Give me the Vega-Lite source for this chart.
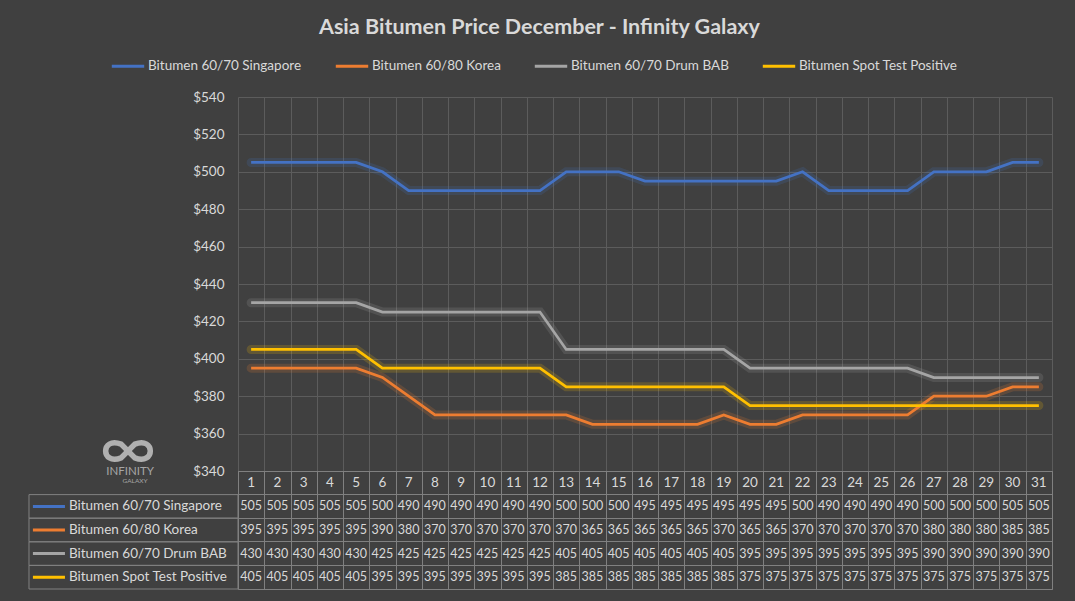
{
  "$schema": "https://vega.github.io/schema/vega-lite/v6.json",
  "autosize": {"type": "pad"},
  "padding": {"left": 27, "top": 16, "right": 25, "bottom": 11},
  "background": "#404040",
  "bounds": "flush",
  "spacing": 0,
  "title": {
    "text": "Asia Bitumen Price December - Infinity Galaxy",
    "fontSize": 21.5,
    "fontWeight": "bold",
    "color": "#d9d9d9",
    "font": "Lato",
    "anchor": "middle",
    "dx": -3,
    "offset": 10
  },
  "config": {
    "font": "Lato",
    "axis": {"gridColor": "#5c5c5c", "labelColor": "#d9d9d9", "domain": false, "ticks": false},
    "legend": {"orient": "none", "legendX": -128, "legendY": -49, "direction": "horizontal", "title": null,
      "symbolType": "stroke", "symbolSize": 1050, "symbolStrokeWidth": 3, "symbolOpacity": 1,
      "labelColor": "#d9d9d9", "labelFontSize": 13.5, "labelLimit": 0, "labelOffset": 2, "columnPadding": 27}
  },
  "datasets": {
    "prices": [
      {"day": 1, "Bitumen 60/70 Singapore": 505, "Bitumen 60/80 Korea": 395, "Bitumen 60/70 Drum BAB": 430, "Bitumen Spot Test Positive": 405},
      {"day": 2, "Bitumen 60/70 Singapore": 505, "Bitumen 60/80 Korea": 395, "Bitumen 60/70 Drum BAB": 430, "Bitumen Spot Test Positive": 405},
      {"day": 3, "Bitumen 60/70 Singapore": 505, "Bitumen 60/80 Korea": 395, "Bitumen 60/70 Drum BAB": 430, "Bitumen Spot Test Positive": 405},
      {"day": 4, "Bitumen 60/70 Singapore": 505, "Bitumen 60/80 Korea": 395, "Bitumen 60/70 Drum BAB": 430, "Bitumen Spot Test Positive": 405},
      {"day": 5, "Bitumen 60/70 Singapore": 505, "Bitumen 60/80 Korea": 395, "Bitumen 60/70 Drum BAB": 430, "Bitumen Spot Test Positive": 405},
      {"day": 6, "Bitumen 60/70 Singapore": 500, "Bitumen 60/80 Korea": 390, "Bitumen 60/70 Drum BAB": 425, "Bitumen Spot Test Positive": 395},
      {"day": 7, "Bitumen 60/70 Singapore": 490, "Bitumen 60/80 Korea": 380, "Bitumen 60/70 Drum BAB": 425, "Bitumen Spot Test Positive": 395},
      {"day": 8, "Bitumen 60/70 Singapore": 490, "Bitumen 60/80 Korea": 370, "Bitumen 60/70 Drum BAB": 425, "Bitumen Spot Test Positive": 395},
      {"day": 9, "Bitumen 60/70 Singapore": 490, "Bitumen 60/80 Korea": 370, "Bitumen 60/70 Drum BAB": 425, "Bitumen Spot Test Positive": 395},
      {"day": 10, "Bitumen 60/70 Singapore": 490, "Bitumen 60/80 Korea": 370, "Bitumen 60/70 Drum BAB": 425, "Bitumen Spot Test Positive": 395},
      {"day": 11, "Bitumen 60/70 Singapore": 490, "Bitumen 60/80 Korea": 370, "Bitumen 60/70 Drum BAB": 425, "Bitumen Spot Test Positive": 395},
      {"day": 12, "Bitumen 60/70 Singapore": 490, "Bitumen 60/80 Korea": 370, "Bitumen 60/70 Drum BAB": 425, "Bitumen Spot Test Positive": 395},
      {"day": 13, "Bitumen 60/70 Singapore": 500, "Bitumen 60/80 Korea": 370, "Bitumen 60/70 Drum BAB": 405, "Bitumen Spot Test Positive": 385},
      {"day": 14, "Bitumen 60/70 Singapore": 500, "Bitumen 60/80 Korea": 365, "Bitumen 60/70 Drum BAB": 405, "Bitumen Spot Test Positive": 385},
      {"day": 15, "Bitumen 60/70 Singapore": 500, "Bitumen 60/80 Korea": 365, "Bitumen 60/70 Drum BAB": 405, "Bitumen Spot Test Positive": 385},
      {"day": 16, "Bitumen 60/70 Singapore": 495, "Bitumen 60/80 Korea": 365, "Bitumen 60/70 Drum BAB": 405, "Bitumen Spot Test Positive": 385},
      {"day": 17, "Bitumen 60/70 Singapore": 495, "Bitumen 60/80 Korea": 365, "Bitumen 60/70 Drum BAB": 405, "Bitumen Spot Test Positive": 385},
      {"day": 18, "Bitumen 60/70 Singapore": 495, "Bitumen 60/80 Korea": 365, "Bitumen 60/70 Drum BAB": 405, "Bitumen Spot Test Positive": 385},
      {"day": 19, "Bitumen 60/70 Singapore": 495, "Bitumen 60/80 Korea": 370, "Bitumen 60/70 Drum BAB": 405, "Bitumen Spot Test Positive": 385},
      {"day": 20, "Bitumen 60/70 Singapore": 495, "Bitumen 60/80 Korea": 365, "Bitumen 60/70 Drum BAB": 395, "Bitumen Spot Test Positive": 375},
      {"day": 21, "Bitumen 60/70 Singapore": 495, "Bitumen 60/80 Korea": 365, "Bitumen 60/70 Drum BAB": 395, "Bitumen Spot Test Positive": 375},
      {"day": 22, "Bitumen 60/70 Singapore": 500, "Bitumen 60/80 Korea": 370, "Bitumen 60/70 Drum BAB": 395, "Bitumen Spot Test Positive": 375},
      {"day": 23, "Bitumen 60/70 Singapore": 490, "Bitumen 60/80 Korea": 370, "Bitumen 60/70 Drum BAB": 395, "Bitumen Spot Test Positive": 375},
      {"day": 24, "Bitumen 60/70 Singapore": 490, "Bitumen 60/80 Korea": 370, "Bitumen 60/70 Drum BAB": 395, "Bitumen Spot Test Positive": 375},
      {"day": 25, "Bitumen 60/70 Singapore": 490, "Bitumen 60/80 Korea": 370, "Bitumen 60/70 Drum BAB": 395, "Bitumen Spot Test Positive": 375},
      {"day": 26, "Bitumen 60/70 Singapore": 490, "Bitumen 60/80 Korea": 370, "Bitumen 60/70 Drum BAB": 395, "Bitumen Spot Test Positive": 375},
      {"day": 27, "Bitumen 60/70 Singapore": 500, "Bitumen 60/80 Korea": 380, "Bitumen 60/70 Drum BAB": 390, "Bitumen Spot Test Positive": 375},
      {"day": 28, "Bitumen 60/70 Singapore": 500, "Bitumen 60/80 Korea": 380, "Bitumen 60/70 Drum BAB": 390, "Bitumen Spot Test Positive": 375},
      {"day": 29, "Bitumen 60/70 Singapore": 500, "Bitumen 60/80 Korea": 380, "Bitumen 60/70 Drum BAB": 390, "Bitumen Spot Test Positive": 375},
      {"day": 30, "Bitumen 60/70 Singapore": 505, "Bitumen 60/80 Korea": 385, "Bitumen 60/70 Drum BAB": 390, "Bitumen Spot Test Positive": 375},
      {"day": 31, "Bitumen 60/70 Singapore": 505, "Bitumen 60/80 Korea": 385, "Bitumen 60/70 Drum BAB": 390, "Bitumen Spot Test Positive": 375}
    ]
  },
  "vconcat": [
    {
      "width": 814,
      "height": 374,
      "view": {"stroke": null},
      "data": {"name": "prices"},
      "transform": [
        {"fold": ["Bitumen 60/70 Singapore", "Bitumen 60/80 Korea", "Bitumen 60/70 Drum BAB", "Bitumen Spot Test Positive"], "as": ["series", "price"]}
      ],
      "encoding": {
        "x": {
          "field": "day", "type": "quantitative",
          "scale": {"domain": [0.5, 31.5], "nice": false, "zero": false},
          "axis": {"values": [0.5,1.5,2.5,3.5,4.5,5.5,6.5,7.5,8.5,9.5,10.5,11.5,12.5,13.5,14.5,15.5,16.5,17.5,18.5,19.5,20.5,21.5,22.5,23.5,24.5,25.5,26.5,27.5,28.5,29.5,30.5,31.5], "labels": false, "title": null, "grid": true}
        },
        "y": {
          "field": "price", "type": "quantitative",
          "scale": {"domain": [340, 540], "nice": false, "zero": false},
          "axis": {"values": [340,360,380,400,420,440,460,480,500,520,540], "format": "$d", "title": null, "labelFontSize": 13.5, "labelPadding": 14, "grid": true}
        }
      },
      "layer": [
        {
          "mark": {"type": "line", "strokeWidth": 9, "opacity": 0.18, "strokeCap": "round"},
          "encoding": {
            "color": {"field": "series", "type": "nominal",
              "scale": {"domain": ["Bitumen 60/70 Singapore", "Bitumen 60/80 Korea", "Bitumen 60/70 Drum BAB", "Bitumen Spot Test Positive"], "range": ["#4472c4", "#ed7d31", "#a5a5a5", "#ffc000"]}}
          }
        },
        {
          "mark": {"type": "line", "strokeWidth": 2.75},
          "encoding": {
            "color": {"field": "series", "type": "nominal"}
          }
        },
        {
          "transform": [{"filter": "datum.day == 1 && datum.series == 'Bitumen 60/70 Singapore'"}],
          "mark": {"type": "point", "shape": "M-0.3,-0.3 C-1.2,-0.65 -1.2,0.65 -0.3,0.3 L0.3,-0.3 C1.2,-0.65 1.2,0.65 0.3,0.3 Z", "size": 2100, "filled": false, "stroke": "#b0b0b0", "strokeWidth": 5.5, "opacity": 1},
          "encoding": {"x": {"datum": -3.69}, "y": {"datum": 350.7}}
        },
        {
          "transform": [{"filter": "datum.day == 1 && datum.series == 'Bitumen 60/70 Singapore'"}],
          "mark": {"type": "text", "text": "INFINITY", "fontSize": 11.5, "color": "#a6a6a6", "letterSpacing": 0.8},
          "encoding": {"x": {"datum": -3.61}, "y": {"datum": 339.5}}
        },
        {
          "transform": [{"filter": "datum.day == 1 && datum.series == 'Bitumen 60/70 Singapore'"}],
          "mark": {"type": "text", "text": "GALAXY", "fontSize": 6.5, "color": "#a6a6a6", "letterSpacing": 2},
          "encoding": {"x": {"datum": -3.42}, "y": {"datum": 334.7}}
        }
      ]
    },
    {
      "width": 814,
      "height": 118,
      "view": {"stroke": "#808080"},
      "data": {"name": "prices"},
      "transform": [
        {"fold": ["Bitumen 60/70 Singapore", "Bitumen 60/80 Korea", "Bitumen 60/70 Drum BAB", "Bitumen Spot Test Positive"], "as": ["series", "price"]}
      ],
      "encoding": {
        "x": {
          "field": "day", "type": "quantitative",
          "scale": {"domain": [0.5, 31.5], "nice": false, "zero": false},
          "axis": {"values": [0.5,1.5,2.5,3.5,4.5,5.5,6.5,7.5,8.5,9.5,10.5,11.5,12.5,13.5,14.5,15.5,16.5,17.5,18.5,19.5,20.5,21.5,22.5,23.5,24.5,25.5,26.5,27.5,28.5,29.5,30.5,31.5], "labels": false, "title": null, "grid": true, "gridColor": "#808080"}
        },
        "y": {
          "field": "series", "type": "nominal",
          "scale": {"type": "band", "domain": ["Day", "Bitumen 60/70 Singapore", "Bitumen 60/80 Korea", "Bitumen 60/70 Drum BAB", "Bitumen Spot Test Positive"], "paddingInner": 0, "paddingOuter": 0},
          "axis": {"labels": false, "title": null, "grid": true, "bandPosition": 0, "gridColor": "#808080"}
        }
      },
      "layer": [
        {
          "transform": [{"filter": "datum.day == 1"}],
          "mark": {"type": "rect", "fillOpacity": 0, "stroke": "#808080", "strokeWidth": 1},
          "encoding": {"x": {"datum": -7.46}, "x2": {"datum": 0.5}}
        },
        {
          "transform": [{"filter": "datum.day == 1"}],
          "mark": {"type": "rule", "strokeWidth": 3},
          "encoding": {"x": {"datum": -7.31}, "x2": {"datum": -6.09},
            "color": {"field": "series", "type": "nominal"}}
        },
        {
          "transform": [{"filter": "datum.day == 1"}],
          "mark": {"type": "text", "align": "left", "fontSize": 13.5, "color": "#d9d9d9"},
          "encoding": {"x": {"datum": -5.94}, "text": {"field": "series"}}
        },
        {
          "mark": {"type": "text", "fontSize": 12.5, "color": "#d9d9d9"},
          "encoding": {"text": {"field": "price", "type": "quantitative"}}
        },
        {
          "transform": [{"filter": "datum.series == 'Bitumen 60/70 Singapore'"}],
          "mark": {"type": "text", "fontSize": 13.5, "color": "#d9d9d9"},
          "encoding": {"y": {"datum": "Day"}, "text": {"field": "day", "type": "quantitative"}}
        }
      ]
    }
  ]
}
